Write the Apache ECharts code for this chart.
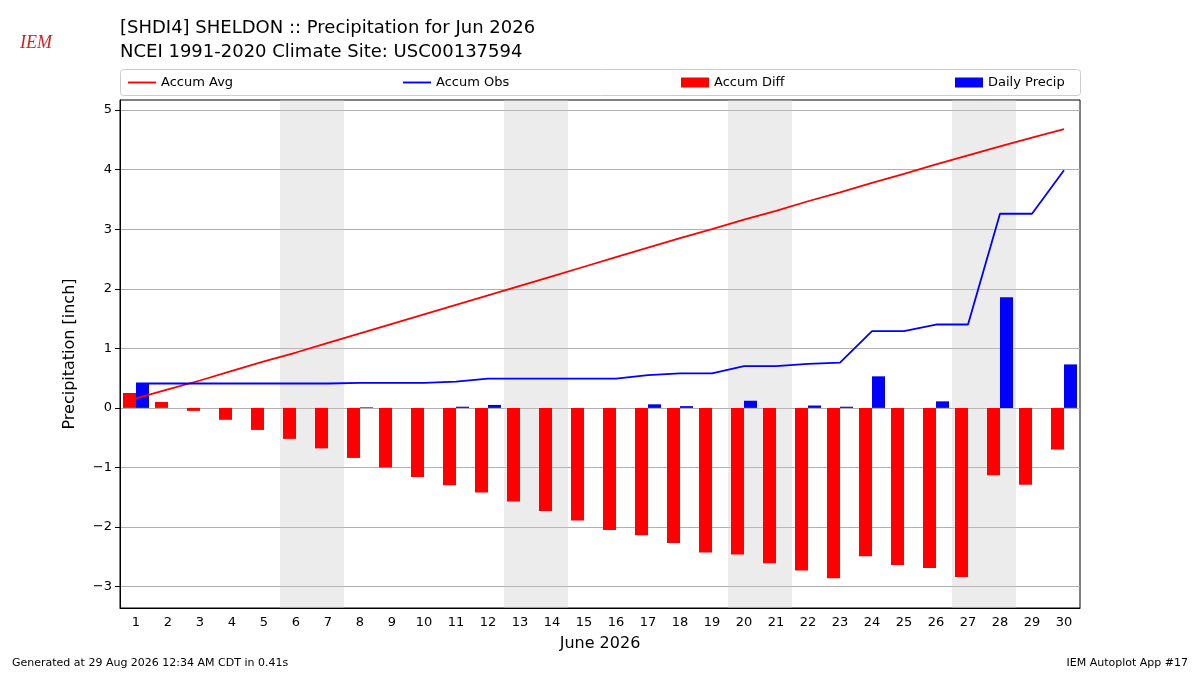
<!DOCTYPE html>
<html><head><meta charset="utf-8">
<script src="https://cdn.jsdelivr.net/npm/echarts@6/dist/echarts.min.js"></script>
<style>html,body{margin:0;background:#fff}#c{width:1200px;height:675px}</style>
</head><body><div id="c"></div>
<script>
const days = Array.from({length: 30}, (_, i) => String(i + 1));
const accumAvg = [0.16,0.31,0.46,0.62,0.78,0.93,1.09,1.25,1.41,1.57,1.73,1.89,2.05,2.21,2.37,2.53,2.69,2.85,3.00,3.16,3.31,3.47,3.62,3.78,3.93,4.09,4.24,4.39,4.54,4.68];
const accumObs = [0.41,0.41,0.41,0.41,0.41,0.41,0.41,0.42,0.42,0.42,0.44,0.49,0.49,0.49,0.49,0.49,0.55,0.58,0.58,0.70,0.70,0.74,0.76,1.29,1.29,1.40,1.40,3.26,3.26,3.99];
const accumDiff = [0.25,0.10,-0.05,-0.20,-0.37,-0.52,-0.68,-0.84,-1.00,-1.16,-1.30,-1.42,-1.57,-1.73,-1.89,-2.05,-2.14,-2.27,-2.43,-2.46,-2.61,-2.73,-2.86,-2.49,-2.64,-2.69,-2.84,-1.13,-1.29,-0.70];
const dailyPrecip = [0.41,0,0,0,0,0,0,0.01,0,0,0.02,0.05,0,0,0,0,0.06,0.03,0,0.12,0,0.04,0.02,0.53,0,0.11,0,1.86,0,0.73];
const weekends = [[5.5,7.5],[12.5,14.5],[19.5,21.5],[26.5,28.5]];
const yTicks = [-3,-2,-1,0,1,2,3,4,5];

const font = 'DejaVu Sans';
const chart = echarts.init(document.getElementById('c'));
const legendItem = (name, left, isLine) => ({
  data: [{ name, icon: isLine ? 'path://M0,0L30,0L30,2L0,2Z' : 'rect' }],
  left, top: 71, itemWidth: 28, itemHeight: isLine ? 2 : 10,
  textStyle: { fontFamily: font, fontSize: 13, color: '#000' }
});

chart.setOption({
  animation: false,
  textStyle: { fontFamily: font },
  title: {
    text: '[SHDI4] SHELDON :: Precipitation for Jun 2026\nNCEI 1991-2020 Climate Site: USC00137594',
    left: 115, top: 11,
    textStyle: { fontFamily: font, fontSize: 18, fontWeight: 'normal', color: '#000', lineHeight: 24 }
  },
  graphic: [
    { type: 'rect', left: 120, top: 69, shape: { width: 960, height: 26, r: 3 },
      style: { fill: '#fff', stroke: '#ccc' }, z: -1 },
    { type: 'text', left: 20, top: 34, style: { text: 'IEM', fill: '#d62020', font: 'italic 18px serif' } },
    { type: 'text', left: 12, top: 658, style: { text: 'Generated at 29 Aug 2026 12:34 AM CDT in 0.41s', fill: '#000', font: '11px DejaVu Sans' } },
    { type: 'text', right: 12, top: 658, style: { text: 'IEM Autoplot App #17', fill: '#000', font: '11px DejaVu Sans' } }
  ],
  legend: [
    legendItem('Accum Avg', 123, true),
    legendItem('Accum Obs', 398, true),
    legendItem('Accum Diff', 676, false),
    legendItem('Daily Precip', 950, false)
  ],
  grid: { left: 120, right: 120, top: 100, bottom: 67, show: true, borderColor: '#000', borderWidth: 1 },
  xAxis: [{
    type: 'category', data: days, boundaryGap: true,
    name: 'June 2026', nameLocation: 'middle', nameGap: 28,
    nameTextStyle: { fontSize: 16, color: '#000' },
    axisLine: { onZero: false, lineStyle: { color: '#000' } },
    axisTick: { alignWithLabel: true, lineStyle: { color: '#000' } },
    axisLabel: { color: '#000', fontSize: 13, interval: 0 },
    splitLine: { show: false }
  }, {
    type: 'value', min: 0.5, max: 30.5, show: false
  }],
  yAxis: {
    type: 'value', min: -3.36, max: 5.17,
    name: 'Precipitation [inch]', nameLocation: 'middle', nameGap: 42,
    nameTextStyle: { fontSize: 16, color: '#000' },
    axisLine: { show: true, lineStyle: { color: '#000' } },
    axisTick: { show: true, customValues: yTicks, lineStyle: { color: '#000' } },
    axisLabel: { color: '#000', fontSize: 13, customValues: yTicks, formatter: v => (v < 0 ? '\u2212' + (-v) : v) },
    splitLine: { show: true, lineStyle: { color: '#b0b0b0' } }
  },
  series: [
    { name: 'weekend', type: 'line', xAxisIndex: 1, data: [], silent: true,
      markArea: { silent: true, itemStyle: { color: 'rgba(200,200,200,0.35)' },
        data: weekends.map(w => [{ xAxis: w[0] }, { xAxis: w[1] }]) } },
    { name: 'Accum Diff', type: 'bar', data: accumDiff, barWidth: 13, barGap: '0%', itemStyle: { color: '#ff0000' } },
    { name: 'Daily Precip', type: 'bar', data: dailyPrecip, barWidth: 13, itemStyle: { color: '#0000ff' } },
    { name: 'Accum Avg', type: 'line', data: accumAvg, symbol: 'none', lineStyle: { color: '#ff0000', width: 1.8 }, itemStyle: { color: '#ff0000' }, z: 5 },
    { name: 'Accum Obs', type: 'line', data: accumObs, symbol: 'none', lineStyle: { color: '#0000ff', width: 1.8 }, itemStyle: { color: '#0000ff' }, z: 5 }
  ]
});
</script></body></html>
